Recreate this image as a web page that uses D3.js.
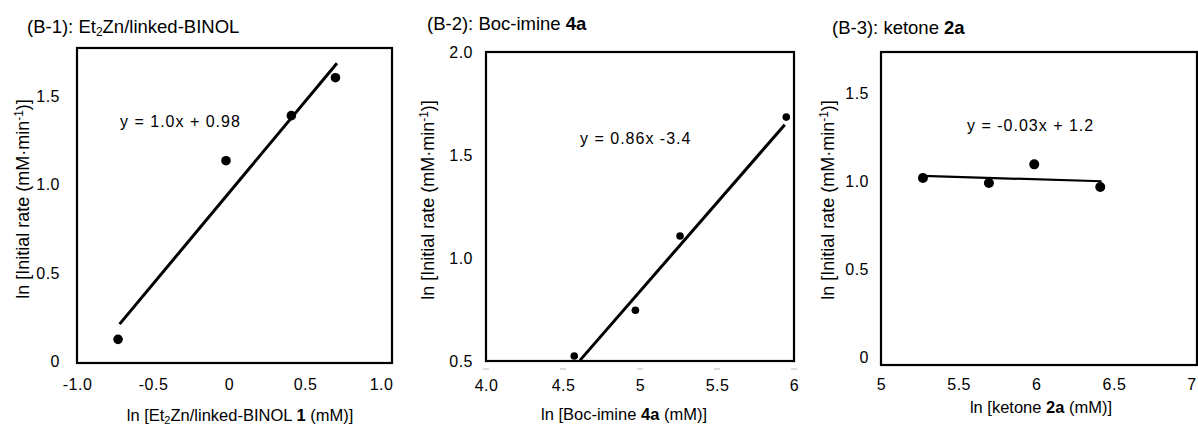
<!DOCTYPE html>
<html><head><meta charset="utf-8">
<script src="https://cdn.jsdelivr.net/npm/d3@7/dist/d3.min.js"></script>
<style>
body{margin:0;background:#fff;}
svg{display:block;font-family:"Liberation Sans",Arial,Helvetica,sans-serif;}
</style></head><body>
<svg id="c" width="1198" height="426"></svg>
<script>
// ---- data ----
const p1X = [-0.73, -0.02, 0.41, 0.70];
const p1Y = [0.124, 1.135, 1.39, 1.605];
const p1FitX = [-0.72, 0.71];
const p1FitY = [0.21, 1.687];
const p1XTicks = [-1, -0.5, 0, 0.5, 1];
const p1XTickLabels = ["-1.0", "-0.5", "0", "0.5", "1.0"];
const p1YTicks = [0, 0.5, 1, 1.5];
const p1YTickLabels = ["0", "0.5", "1.0", "1.5"];
const p1Eq = "y = 1.0x + 0.98";

const p2X = [4.573, 4.97, 5.26, 5.95];
const p2Y = [0.524, 0.746, 1.107, 1.684];
const p2FitX = [4.61, 5.94];
const p2FitY = [0.503, 1.647];
const p2XTicks = [4, 4.5, 5, 5.5, 6];
const p2XTickLabels = ["4.0", "4.5", "5", "5.5", "6"];
const p2YTicks = [0.5, 1, 1.5, 2];
const p2YTickLabels = ["0.5", "1.0", "1.5", "2.0"];
const p2Eq = "y = 0.86x -3.4";

const p3X = [5.27, 5.695, 5.987, 6.412];
const p3Y = [1.018, 0.99, 1.096, 0.967];
const p3FitX = [5.27, 6.42];
const p3FitY = [1.03, 1.0];
const p3XTicks = [5, 5.5, 6, 6.5, 7];
const p3XTickLabels = ["5", "5.5", "6", "6.5", "7"];
const p3YTicks = [0, 0.5, 1, 1.5];
const p3YTickLabels = ["0", "0.5", "1.0", "1.5"];
const p3Eq = "y = -0.03x + 1.2";

const svg = d3.select("#c");
const FS = 16;

function panel(cfg){
  const x = d3.scaleLinear().domain(cfg.xd).range([cfg.L, cfg.R]);
  const y = d3.scaleLinear().domain(cfg.yd).range([cfg.B, cfg.T]);
  const g = svg.append("g");
  const xa = g.append("g").attr("transform", `translate(0,${cfg.B})`)
    .call(d3.axisBottom(x).tickValues(cfg.xt).tickSize(0).tickPadding(cfg.xpad)
      .tickFormat((d,i)=>cfg.xl[i]));
  xa.select(".domain").remove();
  xa.selectAll("text").attr("font-size", FS).attr("letter-spacing",0.5).attr("fill","#000").attr("font-family",null);
  const ya = g.append("g").attr("transform", `translate(${cfg.L},0)`)
    .call(d3.axisLeft(y).tickValues(cfg.yt).tickSize(0).tickPadding(cfg.ypad)
      .tickFormat((d,i)=>cfg.yl[i]));
  ya.select(".domain").remove();
  ya.selectAll("text").attr("font-size", FS).attr("letter-spacing",0.5).attr("fill","#000").attr("font-family",null);
  if (cfg.minorTicks){
    g.selectAll(".mt").data(cfg.xt).enter().append("line")
      .attr("x1", d=>x(d)-3).attr("x2", d=>x(d)+3)
      .attr("y1", cfg.B+8).attr("y2", cfg.B+8)
      .attr("stroke","#bbb").attr("stroke-width",1);
  }
  g.append("rect").attr("x", cfg.L).attr("y", cfg.T)
    .attr("width", cfg.R-cfg.L).attr("height", cfg.B-cfg.T)
    .attr("fill","none").attr("stroke","#000").attr("stroke-width",2.2);
  g.append("line")
    .attr("x1", x(cfg.fx[0])).attr("y1", y(cfg.fy[0]))
    .attr("x2", x(cfg.fx[1])).attr("y2", y(cfg.fy[1]))
    .attr("stroke","#000").attr("stroke-width", cfg.lw);
  g.selectAll(".pt").data(cfg.px.map((v,i)=>[v,cfg.py[i]])).enter().append("circle")
    .attr("cx", d=>x(d[0])).attr("cy", d=>y(d[1])).attr("r", cfg.r).attr("fill","#000");
  g.append("text").attr("x", cfg.eqx).attr("y", cfg.eqy).attr("font-size", 16)
    .attr("letter-spacing", 1).text(cfg.eq);
  return {x,y,g};
}

panel({L:77,R:392,T:48,B:363,xd:[-1,1.072],yd:[-0.010,1.773],
  xt:p1XTicks,xl:p1XTickLabels,yt:p1YTicks,yl:p1YTickLabels,xpad:16,ypad:17,
  px:p1X,py:p1Y,fx:p1FitX,fy:p1FitY,lw:3,r:4.8,eq:p1Eq,eqx:120,eqy:127});
panel({L:486,R:794,T:52,B:361,xd:[4,6],yd:[0.5,2.0],
  xt:p2XTicks,xl:p2XTickLabels,yt:p2YTicks,yl:p2YTickLabels,xpad:19,ypad:13,minorTicks:true,
  px:p2X,py:p2Y,fx:p2FitX,fy:p2FitY,lw:3,r:3.8,eq:p2Eq,eqx:580,eqy:144});
panel({L:881,R:1197,T:52,B:365,xd:[5,7.035],yd:[-0.045,1.735],
  xt:p3XTicks,xl:p3XTickLabels,yt:p3YTicks,yl:p3YTickLabels,xpad:14,ypad:12,
  px:p3X,py:p3Y,fx:p3FitX,fy:p3FitY,lw:2.2,r:5,eq:p3Eq,eqx:967,eqy:131});

function rich(t, parts, subSize){
  parts.forEach(p=>{
    const s = t.append("tspan").text(p.t);
    if (p.b) s.attr("font-weight","bold");
    if (p.sub) s.attr("font-size", subSize).attr("dy", 3);
    if (p.after) s.attr("dy", p.after);
  });
}
function title(xp, yp, parts){
  const t = svg.append("text").attr("x", xp).attr("y", yp).attr("font-size", 18.5);
  rich(t, parts, 12);
}
title(27, 33, [{t:"(B-1): Et"},{t:"2",sub:true},{t:"Zn/linked-BINOL",after:-3}]);
title(427, 30, [{t:"(B-2): Boc-imine "},{t:"4a",b:true}]);
title(832, 34, [{t:"(B-3): ketone "},{t:"2a",b:true}]);

function xtitle(cx, yp, parts){
  const t = svg.append("text").attr("x", cx).attr("y", yp).attr("font-size", 16.5).attr("text-anchor","middle");
  rich(t, parts, 11);
}
xtitle(240, 421, [{t:"ln [Et"},{t:"2",sub:true},{t:"Zn/linked-BINOL ",after:-3},{t:"1",b:true},{t:" (mM)]"}]);
xtitle(624, 420, [{t:"ln [Boc-imine "},{t:"4a",b:true},{t:" (mM)]"}]);
xtitle(1041, 413, [{t:"ln [ketone "},{t:"2a",b:true},{t:" (mM)]"}]);

[[29,199],[434,200],[834,200]].forEach(([cx,cy])=>{
  const t = svg.append("text").attr("transform",`translate(${cx},${cy}) rotate(-90)`)
    .attr("font-size", 18).attr("text-anchor","middle");
  t.append("tspan").text("ln [Initial rate (mM·min");
  t.append("tspan").text("-1").attr("font-size",12).attr("dy",-6);
  t.append("tspan").text(")]").attr("dy",6);
});
</script>
</body></html>
